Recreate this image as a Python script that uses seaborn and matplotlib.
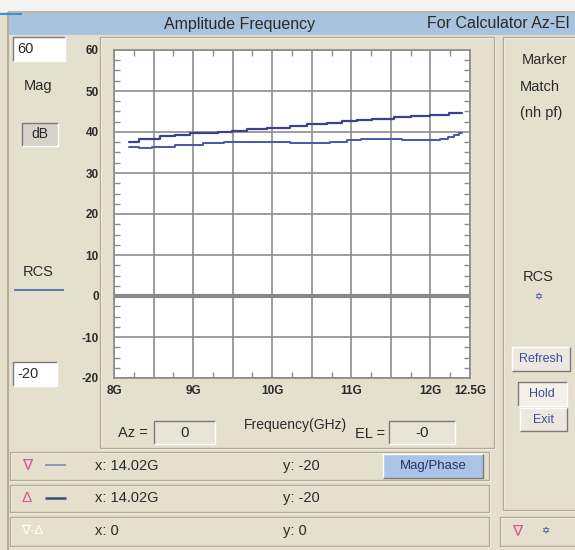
import matplotlib
matplotlib.use("Agg")
import matplotlib.pyplot as plt
from matplotlib.patches import Rectangle
from matplotlib.ticker import MultipleLocator, FixedLocator, FuncFormatter
import seaborn as sns
import pandas as pd

# ---------------- data ----------------
freq_upper = [8.19, 8.31, 8.58, 8.77, 8.96, 9.32, 9.49, 9.68, 9.93, 10.23,
              10.44, 10.69, 10.88, 11.07, 11.26, 11.54, 11.75, 12.00, 12.23, 12.40]
mag_upper = [37.6, 38.4, 38.95, 39.3, 39.7, 40.1, 40.3, 40.7, 41.05, 41.5,
             41.85, 42.2, 42.65, 43.0, 43.25, 43.65, 43.9, 44.2, 44.6, 44.6]
freq_lower = [8.19, 8.31, 8.48, 8.77, 9.13, 9.39, 10.23, 10.73, 10.95, 11.12,
              11.64, 12.12, 12.22, 12.30, 12.36, 12.40]
mag_lower = [36.4, 36.0, 36.4, 36.8, 37.25, 37.6, 37.25, 37.6, 37.95, 38.25,
             37.95, 38.3, 38.7, 39.2, 39.7, 39.7]
x_ticks = [8, 9, 10, 11, 12, 12.5]
x_tick_labels = ["8G", "9G", "10G", "11G", "12G", "12.5G"]
y_ticks = [-20, -10, 0, 10, 20, 30, 40, 50, 60]

sns.set_style("white")
plt.rcParams["font.family"] = ["Liberation Sans", "DejaVu Sans"]
plt.rcParams["axes.unicode_minus"] = False

BEIGE = "#e5dfcd"
TXT = "#2a2a2a"

fig = plt.figure(figsize=(5.75, 5.5), dpi=100, facecolor=BEIGE)
bg = fig.add_axes([0, 0, 1, 1])
bg.set_xlim(0, 575)
bg.set_ylim(550, 0)
bg.axis("off")


def rect(x0, y0, x1, y1, fc, ec="none", lw=1.0, z=1):
    bg.add_patch(Rectangle((x0, y0), x1 - x0, y1 - y0, facecolor=fc,
                           edgecolor=ec, lw=lw, zorder=z))


def line(xs, ys, c, lw=1.0, z=2):
    bg.plot(xs, ys, color=c, lw=lw, zorder=z, solid_capstyle="butt")


def bevel(x0, y0, x1, y1, fc, sunken=True, z=1):
    rect(x0, y0, x1, y1, fc, z=z)
    dark, light = ("#7a7a7a", "#ffffff") if sunken else ("#ffffff", "#7a7a7a")
    line([x0, x0, x1], [y1, y0, y0], dark, 1.0, z + 1)
    line([x0, x1, x1], [y1, y1, y0], light, 1.0, z + 1)


def groove(x0, y0, x1, y1, z=1):
    bg.add_patch(Rectangle((x0, y0), x1 - x0, y1 - y0, facecolor="none",
                           edgecolor="#b3ab98", lw=1.0, zorder=z))
    bg.add_patch(Rectangle((x0 + 1, y0 + 1), x1 - x0, y1 - y0, facecolor="none",
                           edgecolor="#fbf8f0", lw=0.8, zorder=z - 0.5))


def T(x, y, s, size=10, color=TXT, ha="center", weight="normal", z=5):
    bg.text(x, y, s, fontsize=size, color=color, ha=ha, va="center",
            fontweight=weight, zorder=z)


# top strip and title bar
rect(0, 0, 575, 12, "#f3f3f1")
line([0, 22], [13.5, 13.5], "#3b8fe0", 1.5, 3)
rect(8, 12, 575, 35, "#a9c2dd", z=1)
line([8, 575], [12, 12], "#bdb6a2", 1.5, 2)
line([8, 8], [12, 550], "#b5ad98", 1.5, 2)
T(240, 24, "Amplitude Frequency", 11.5)
T(569, 24, "For Calculator Az-El", 11.5, ha="right")

# panel separators
groove(100, 37, 494, 448)
groove(503, 37, 576, 510)

# left panel
bevel(13, 37, 65, 61, "#ffffff")
T(17, 49, "60", 10.5, ha="left")
T(38, 86, "Mag", 10.5)
bevel(22, 123, 58, 146, "#d6d2c8", sunken=True)
T(40, 134.5, "dB", 10)
T(38, 272, "RCS", 10.5)
line([14, 64], [290, 290], "#5f7fae", 1.5)
bevel(13, 362, 57, 386, "#ffffff")
T(17, 374, "-20", 10.5, ha="left")

# right panel
T(545, 60, "Marker", 10.5)
T(540, 87, "Match", 10.5)
T(541, 113, "(nh pf)", 10.5)
T(538, 277, "RCS", 10.5)
T(538, 297, "\u2721", 7, color="#3a4aa8")
bevel(512, 347, 570, 371, "#ece8de", sunken=False)
T(541, 359, "Refresh", 9, color="#3c4c9c")
bevel(518, 382, 567, 406, "#f3f0e8", sunken=True)
T(542, 394, "Hold", 9, color="#3c4c9c")
bevel(520, 408, 567, 431, "#ece8de", sunken=False)
T(543, 420, "Exit", 9, color="#3c4c9c")

# below plot
T(133, 433, "Az =", 10.5)
bevel(154, 421, 215, 444, "#e9e4d6")
T(185, 433, "0", 11)
T(295, 425, "Frequency(GHz)", 10)
T(370, 434, "EL =", 10.5)
bevel(389, 421, 455, 444, "#e9e4d6")
T(422, 433, "-0", 11)

# marker rows
groove(10, 452, 489, 480)
groove(10, 485, 489, 512)
groove(10, 517, 489, 546)
T(27, 465, "\u2207", 11, color="#e0508a")
line([45, 66], [465, 465], "#7b8bb5", 1.2, 3)
T(95, 466, "x: 14.02G", 10.5, ha="left")
T(283, 466, "y: -20", 10.5, ha="left")
bevel(383, 454, 483, 478, "#aac4e6", sunken=False)
T(433, 466, "Mag/Phase", 9.5, color="#2a3468")
T(27, 498, "\u0394", 11, color="#e0508a")
line([45, 66], [498, 498], "#3a4a7a", 1.8, 3)
T(95, 498, "x: 14.02G", 10.5, ha="left")
T(283, 498, "y: -20", 10.5, ha="left")
T(32, 531, "\u2207-\u0394", 9.5, color="#ffffff")
T(95, 531, "x: 0", 10.5, ha="left")
T(283, 531, "y: 0", 10.5, ha="left")
groove(500, 517, 576, 546)
T(517, 531, "\u2207", 11, color="#e0508a")
T(545, 531, "\u2721", 7, color="#3a4aa8")

# ---------------- chart ----------------
ax = fig.add_axes([114 / 575, 1 - 378 / 550, 356 / 575, 328 / 550], zorder=5)
ax.set_facecolor("white")

up = pd.DataFrame({"freq": freq_upper, "mag": mag_upper})
lo = pd.DataFrame({"freq": freq_lower, "mag": mag_lower})
sns.lineplot(data=up, x="freq", y="mag", ax=ax, drawstyle="steps-post",
             estimator=None, color="#3f418c", lw=1.6, zorder=4)
sns.lineplot(data=lo, x="freq", y="mag", ax=ax, drawstyle="steps-post",
             estimator=None, color="#4a56a8", lw=1.4, zorder=4)
ax.axhline(0, color="#888888", lw=3.0, zorder=3)

ax.set_xlim(8, 12.5)
ax.set_ylim(-20, 60)
ax.set_xlabel("")
ax.set_ylabel("")

ax.xaxis.set_major_locator(MultipleLocator(0.5))
ax.xaxis.set_major_formatter(FuncFormatter(
    lambda v, p: x_tick_labels[x_ticks.index(round(v, 2))] if round(v, 2) in x_ticks else ""))
ax.xaxis.set_minor_locator(MultipleLocator(0.25))
ax.yaxis.set_major_locator(FixedLocator(y_ticks))
ax.yaxis.set_minor_locator(MultipleLocator(2.5))

ax.grid(True, which="major", color="#8c8c8c", lw=1.2, zorder=1)
ax.set_axisbelow(True)
ax.tick_params(which="major", length=0, labelsize=8.5, colors=TXT)
ax.tick_params(axis="y", which="major", pad=11)
ax.tick_params(axis="x", which="major", pad=5)
ax.tick_params(which="minor", direction="in", length=4, width=1, color="#8c8c8c",
               top=True, bottom=True, left=True, right=True)
for lab in ax.get_xticklabels() + ax.get_yticklabels():
    lab.set_fontweight("bold")
for s in ax.spines.values():
    s.set_color("#8c8c8c")
    s.set_linewidth(1.2)

fig.savefig("out.png", dpi=100, facecolor=BEIGE)
